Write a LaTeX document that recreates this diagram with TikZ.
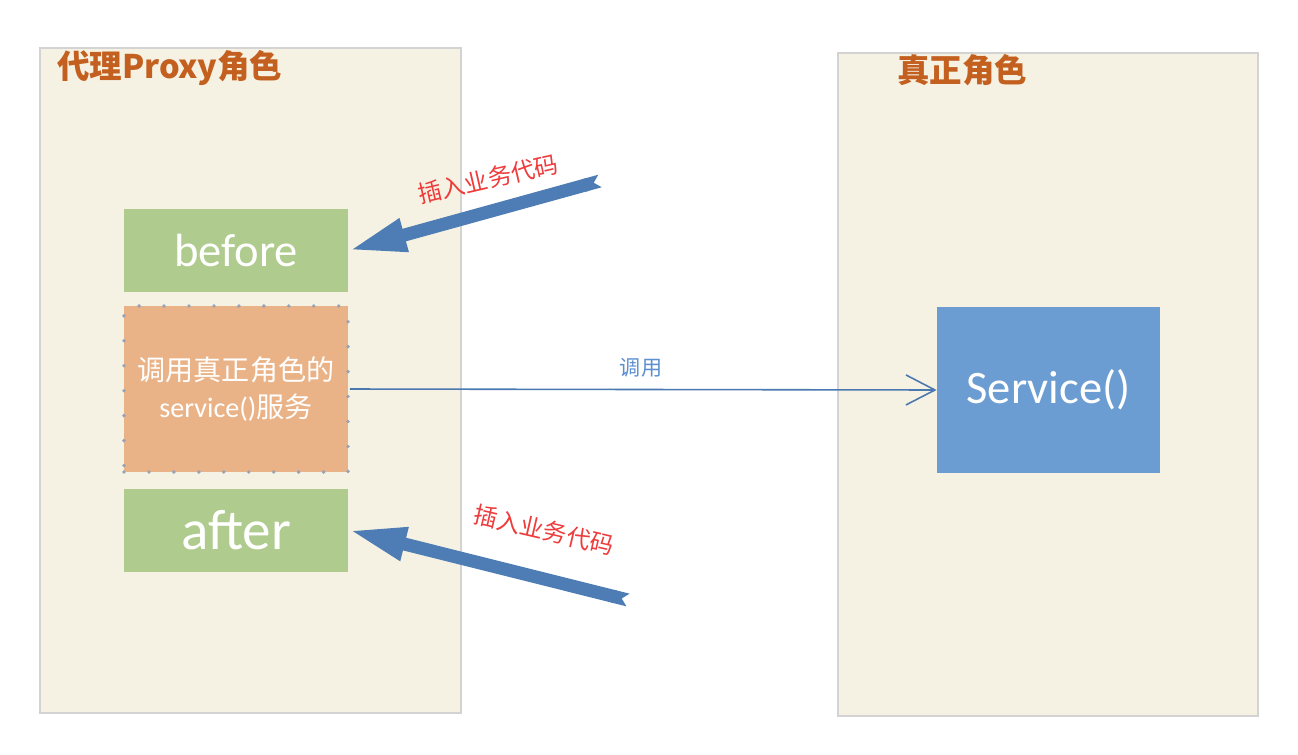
\documentclass[tikz,border=0pt]{standalone}
\usepackage{fontspec}
\setmainfont{Carlito}
\newfontfamily\cjk{Noto Sans CJK SC}
\usetikzlibrary{arrows.meta}

\definecolor{panelfill}{HTML}{F6F2E3}
\definecolor{panelline}{HTML}{D3D3D3}
\definecolor{titlebrown}{HTML}{C3601F}
\definecolor{stepgreen}{HTML}{AFCB8D}
\definecolor{callorange}{HTML}{EAB387}
\definecolor{dotgray}{HTML}{98A3B5}
\definecolor{servblue}{HTML}{6B9DD2}
\definecolor{fatblue}{HTML}{4E7DB5}
\definecolor{linkblue}{HTML}{4A78B0}
\definecolor{labelblue}{HTML}{5B8FD0}
\definecolor{notered}{HTML}{EE3B3B}

\tikzset{
  panel/.style={draw=panelline, fill=panelfill, line width=0.8pt, inner sep=0pt},
  roletitle/.style={anchor=west, text=titlebrown, font=\cjk\bfseries\fontsize{18.5}{22}\selectfont},
  stepbox/.style={fill=stepgreen, text=white, minimum width=4.48cm, minimum height=1.66cm, inner sep=0pt},
  callbox/.style={fill=callorange, text=white, draw=dotgray, line width=2.2pt, line cap=round,
    dash pattern=on 0pt off 14.2pt, minimum width=4.48cm, minimum height=3.32cm, inner sep=0pt,
    align=center, font=\fontsize{16}{21.5}\selectfont},
  servbox/.style={fill=servblue, text=white, minimum width=4.46cm, minimum height=3.32cm, inner sep=0pt,
    font=\fontsize{26.5}{30}\selectfont},
  fatarrow/.style={draw=fatblue, line width=0.26cm, {Triangle Cap[reversed]}-{Triangle[width=0.62cm, length=1.16cm]}},
  insertnote/.style={text=notered, font=\cjk\fontsize{13.5}{16}\selectfont},
}

\begin{document}
\begin{tikzpicture}[x=0.02cm, y=-0.02cm]
%	\draw[step=50,red,very thin] (0,0) grid (1298,754);
	\useasboundingbox[fill=white] (0,0) rectangle (1298,754);

	% two roles
	\node[panel, minimum width=8.42cm, minimum height=13.3cm] (proxy) at (250.5,380.5) {};
	\node[panel, minimum width=8.4cm, minimum height=13.26cm] (real) at (1048,384.5) {};
	\node[roletitle] (proxytitle) at (51,68) {代理Proxy角色};
	\node[roletitle] (realtitle) at (891,70) {真正角色};

	% proxy steps
	\node[stepbox, font=\fontsize{26.5}{30}\selectfont] (before) at (236,250.5) {before};
	\node[callbox] (call) at (236,389) {{\cjk 调用真正角色的}\\service(){\cjk 服务}};
	\node[stepbox, font=\fontsize{32.5}{36}\selectfont] (after) at (236,530) {after};

	% real service
	\node[servbox] (service) at (1048.5,390) {Service()};

	\draw[linkblue, line width=0.9pt, -{Straight Barb[length=0.58cm, width=0.6cm]}] (call.east) -- (service.west);
	\node[text=labelblue, font=\cjk\fontsize{12}{14}\selectfont] (calllabel) at (641,368) {调用};

	% inserted code
	\coordinate (beforetail) at (600,181);
	\coordinate (aftertail) at (628,600);
	\draw[fatarrow] (beforetail) -- (before.east);
	\draw[fatarrow] (aftertail) -- (after.east);
	\node[insertnote, rotate=13] (beforenote) at (488,179) {插入业务代码};
	\node[insertnote, rotate=-13] (afternote) at (544,530) {插入业务代码};
\end{tikzpicture}
\end{document}
